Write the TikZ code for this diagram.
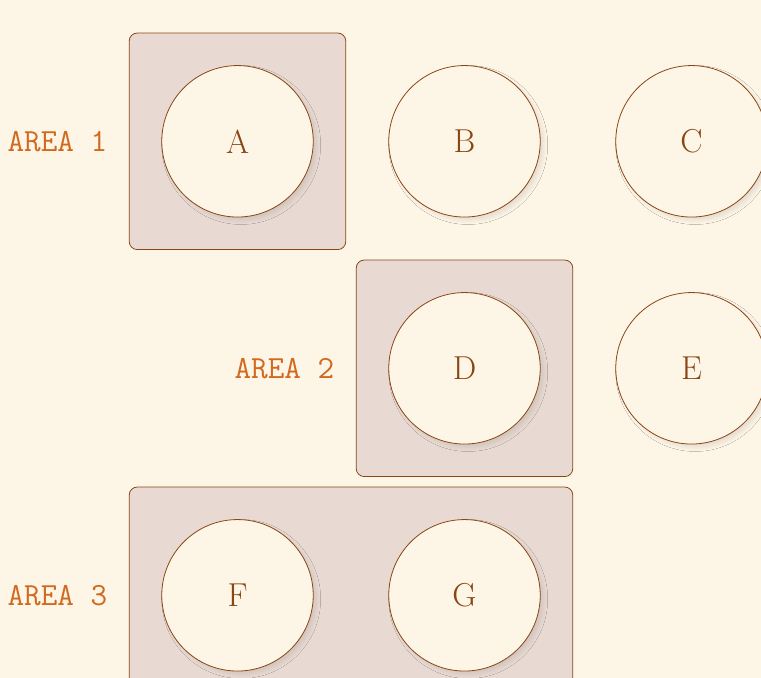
\documentclass[tikz,border=0pt]{standalone}
\usetikzlibrary{shadows.blur,fit,positioning}
\definecolor{bgc}{HTML}{FDF6E7}
\definecolor{boxc}{HTML}{E8DAD2}
\definecolor{linec}{HTML}{8B4513}
\definecolor{labc}{HTML}{D2691E}
\begin{document}
\begin{tikzpicture}[x=0.75pt,y=-0.75pt,
  ball/.style={circle,draw=linec,line width=0.6pt,fill=bgc,minimum size=113.6pt,inner sep=0pt,
    text=linec,font=\fontsize{24.88}{30}\selectfont,
    blur shadow={shadow xshift=3pt,shadow yshift=-3pt,shadow blur radius=8pt,shadow scale=0.92,shadow blur steps=14,shadow opacity=25}},
  areabox/.style={draw=linec,line width=0.6pt,fill=boxc,rounded corners=6pt,inner sep=24.2pt},
  arealab/.style={text=labc,font=\ttfamily\fontsize{24.2}{30}\selectfont,inner sep=0pt}]
\useasboundingbox[fill=bgc] (0,0) rectangle (761,678);
% node coordinates
\coordinate (pA) at (237.5,141.3);
\coordinate (pB) at (464.5,141.3);
\coordinate (pC) at (691.5,141.3);
\coordinate (pD) at (464.5,368.3);
\coordinate (pE) at (691.5,368.3);
\coordinate (pF) at (237.5,595.3);
\coordinate (pG) at (464.5,595.3);
% invisible placeholders for fitting
\node[circle,minimum size=113.6pt,inner sep=0pt] (fA) at (pA) {};
\node[circle,minimum size=113.6pt,inner sep=0pt] (fD) at (pD) {};
\node[circle,minimum size=113.6pt,inner sep=0pt] (fF) at (pF) {};
\node[circle,minimum size=113.6pt,inner sep=0pt] (fG) at (pG) {};
\node[areabox,fit=(fA.north)(fA.south)(fA.east)(fA.west)] (box1) {};
\node[areabox,fit=(fD.north)(fD.south)(fD.east)(fD.west)] (box2) {};
\node[areabox,fit=(fF.north)(fF.south)(fF.west)(fG.east)] (box3) {};
\node[arealab,left=16pt of box1.west] (l1) {AREA 1};
\node[arealab,left=16pt of box2.west] (l2) {AREA 2};
\node[arealab,anchor=east] (l3) at ([xshift=-16pt]box3.west |- pF) {AREA 3};
\node[ball] (A) at (pA) {A};
\node[ball] (B) at (pB) {B};
\node[ball] (C) at (pC) {C};
\node[ball] (D) at (pD) {D};
\node[ball] (E) at (pE) {E};
\node[ball] (F) at (pF) {F};
\node[ball] (G) at (pG) {G};
\end{tikzpicture}
\end{document}
